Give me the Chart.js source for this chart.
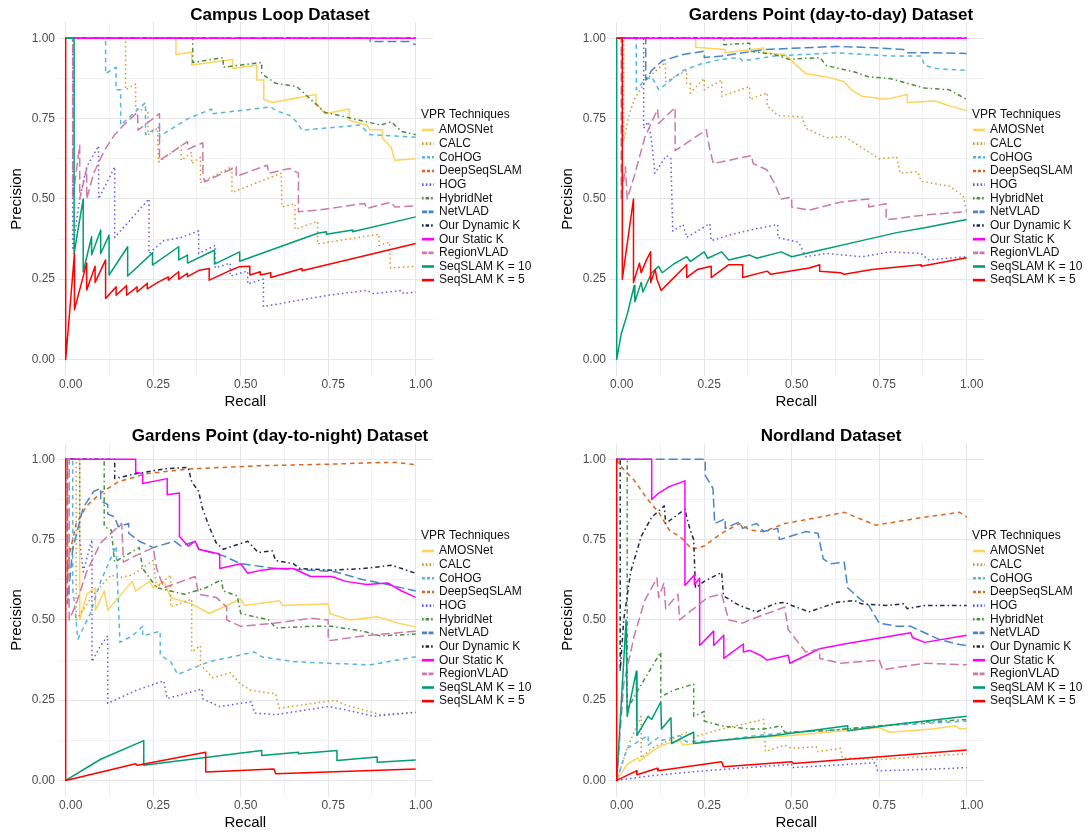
<!DOCTYPE html>
<html>
<head>
<meta charset="utf-8">
<title>VPR precision-recall curves</title>
<script src="https://cdn.jsdelivr.net/npm/chart.js@4.4.1/dist/chart.umd.min.js"></script>
<style>
  html, body { margin: 0; padding: 0; background: #ffffff; }
  #figure { position: relative; width: 1090px; height: 837px; overflow: hidden; }
  #figure canvas { position: absolute; }
</style>
</head>
<body>
<div id="figure">
  <canvas id="campusChart" width="551" height="416" style="left:0;top:0;width:551px;height:416px"></canvas>
  <canvas id="gpDayChart" width="539" height="416" style="left:551px;top:0;width:539px;height:416px"></canvas>
  <canvas id="gpNightChart" width="551" height="416" style="left:0;top:421px;width:551px;height:416px"></canvas>
  <canvas id="nordlandChart" width="539" height="416" style="left:551px;top:421px;width:539px;height:416px"></canvas>
</div>
<script>
// Techniques, in legend order
const techniques = ['AMOSNet', 'CALC', 'CoHOG', 'DeepSeqSLAM', 'HOG', 'HybridNet', 'NetVLAD',
  'Our Dynamic K', 'Our Static K', 'RegionVLAD', 'SeqSLAM K = 10', 'SeqSLAM K = 5'];
const techColors = ['#ffd35c', '#cf9a2a', '#56b4e9', '#dd661c', '#5c5cf2', '#4a8f3c', '#4a84c8',
  '#1e2947', '#ff00ff', '#cc79a7', '#009e73', '#ff0000'];
const lineTypes = ['solid', 'dotted', 'dashed', 'dashed', 'dotted', 'dotdash', 'longdash',
  'dotdash', 'solid', 'longdash', 'solid', 'solid'];

const recallTicks = [0, 0.125, 0.25, 0.375, 0.5, 0.625, 0.75, 0.875, 1];
const precisionTicks = [0, 0.125, 0.25, 0.375, 0.5, 0.625, 0.75, 0.875, 1];

// ---- Campus Loop: [recall, precision] ----
const campusAMOSNet = [[0,1],[0.315,1],[0.315,0.95],[0.36,0.957],[0.36,0.917],[0.477,0.934],[0.477,0.906],[0.546,0.917],[0.546,0.87],[0.566,0.87],[0.566,0.81],[0.59,0.8],[0.715,0.825],[0.715,0.8],[0.74,0.765],[0.81,0.78],[0.81,0.745],[0.86,0.73],[0.87,0.715],[0.905,0.715],[0.905,0.69],[0.93,0.66],[0.94,0.62],[1,0.625]];
const campusCALC = [[0,1],[0.171,1],[0.171,0.84],[0.2,0.858],[0.2,0.78],[0.235,0.775],[0.235,0.7],[0.262,0.72],[0.265,0.615],[0.33,0.665],[0.33,0.62],[0.36,0.645],[0.36,0.61],[0.385,0.63],[0.385,0.55],[0.475,0.6],[0.475,0.52],[0.616,0.58],[0.618,0.475],[0.655,0.485],[0.655,0.405],[0.72,0.43],[0.72,0.36],[0.895,0.39],[0.895,0.355],[0.925,0.365],[0.928,0.285],[1,0.29]];
const campusCoHOG = [[0,1],[0.114,1],[0.114,0.89],[0.144,0.91],[0.144,0.84],[0.157,0.84],[0.157,0.73],[0.228,0.8],[0.228,0.7],[0.268,0.725],[0.268,0.695],[0.35,0.75],[0.417,0.78],[0.417,0.765],[0.5,0.775],[0.586,0.787],[0.6,0.775],[0.64,0.76],[0.66,0.74],[0.675,0.714],[0.84,0.73],[0.87,0.7],[1,0.692]];
const campusDeepSeqSLAM = [[0,1],[1,1]];
const campusHOG = [[0,1],[0.02,1],[0.02,0.34],[0.04,0.5],[0.06,0.6],[0.094,0.665],[0.094,0.5],[0.14,0.6],[0.14,0.38],[0.238,0.5],[0.238,0.33],[0.28,0.37],[0.33,0.38],[0.38,0.4],[0.38,0.33],[0.427,0.355],[0.427,0.285],[0.47,0.3],[0.47,0.26],[0.52,0.275],[0.52,0.235],[0.565,0.25],[0.565,0.165],[0.75,0.2],[0.86,0.215],[0.88,0.205],[0.96,0.215],[0.965,0.205],[1,0.21]];
const campusHybridNet = [[0,1],[0.363,1],[0.363,0.925],[0.45,0.94],[0.45,0.91],[0.56,0.925],[0.56,0.89],[0.6,0.86],[0.66,0.85],[0.7,0.81],[0.74,0.77],[0.82,0.75],[0.86,0.74],[0.9,0.73],[0.93,0.74],[0.96,0.71],[1,0.7]];
const campusNetVLAD = [[0,1],[0.87,1],[0.87,0.99],[0.98,0.99],[1,0.98]];
const campusDynamicK = [[0,1],[1,1]];
const campusStaticK = [[0,1],[1,1]];
const campusRegionVLAD = [[0,1],[0.02,1],[0.02,0.5],[0.04,0.667],[0.04,0.5],[0.06,0.595],[0.06,0.5],[0.08,0.58],[0.11,0.65],[0.14,0.7],[0.17,0.735],[0.205,0.77],[0.207,0.714],[0.268,0.766],[0.268,0.62],[0.348,0.678],[0.35,0.655],[0.392,0.675],[0.392,0.58],[0.397,0.553],[0.487,0.6],[0.487,0.57],[0.576,0.605],[0.58,0.58],[0.64,0.595],[0.665,0.58],[0.665,0.46],[0.72,0.465],[0.854,0.486],[0.86,0.47],[0.93,0.49],[0.94,0.475],[1,0.478]];
const campusSeqK10 = [[0,1],[0.024,1],[0.024,0.33],[0.05,0.5],[0.05,0.273],[0.074,0.382],[0.074,0.325],[0.1,0.403],[0.1,0.33],[0.124,0.387],[0.124,0.263],[0.177,0.351],[0.177,0.26],[0.248,0.332],[0.248,0.294],[0.323,0.351],[0.323,0.31],[0.348,0.325],[0.348,0.3],[0.425,0.34],[0.425,0.297],[0.497,0.335],[0.497,0.306],[0.72,0.393],[0.745,0.398],[0.745,0.39],[0.82,0.403],[0.82,0.398],[1,0.444]];
const campusSeqK5 = [[0,1],[0,0],[0.025,0.33],[0.025,0.155],[0.06,0.3],[0.06,0.216],[0.084,0.29],[0.084,0.24],[0.114,0.31],[0.114,0.19],[0.144,0.226],[0.144,0.2],[0.174,0.23],[0.174,0.2],[0.204,0.226],[0.204,0.21],[0.233,0.237],[0.233,0.22],[0.263,0.24],[0.293,0.257],[0.293,0.247],[0.323,0.273],[0.323,0.25],[0.348,0.268],[0.348,0.258],[0.382,0.278],[0.41,0.283],[0.41,0.247],[0.472,0.278],[0.497,0.289],[0.526,0.29],[0.526,0.263],[0.556,0.273],[0.556,0.263],[0.586,0.27],[0.586,0.255],[0.675,0.283],[0.675,0.276],[1,0.361]];

// ---- Gardens Point day-to-day ----
const gpDayAMOSNet = [[0,1],[0.226,1],[0.226,0.972],[0.31,0.965],[0.31,0.955],[0.42,0.97],[0.42,0.955],[0.48,0.95],[0.5,0.93],[0.54,0.89],[0.6,0.88],[0.65,0.865],[0.67,0.84],[0.7,0.82],[0.77,0.81],[0.83,0.825],[0.83,0.8],[0.91,0.805],[0.95,0.79],[1,0.775]];
const gpDayCALC = [[0,1],[0.02,1],[0.02,0.68],[0.035,0.76],[0.05,0.81],[0.087,0.875],[0.139,0.925],[0.14,0.865],[0.2,0.9],[0.2,0.86],[0.21,0.86],[0.21,0.83],[0.25,0.875],[0.25,0.84],[0.3,0.87],[0.3,0.82],[0.38,0.85],[0.38,0.81],[0.43,0.83],[0.43,0.79],[0.46,0.76],[0.53,0.755],[0.54,0.72],[0.6,0.69],[0.65,0.695],[0.75,0.625],[0.8,0.63],[0.81,0.58],[0.86,0.585],[0.87,0.555],[0.95,0.54],[0.99,0.51],[1,0.46]];
const gpDayCoHOG = [[0,1],[0.056,1],[0.056,0.84],[0.08,0.87],[0.1,0.88],[0.12,0.84],[0.19,0.9],[0.24,0.92],[0.3,0.935],[0.35,0.94],[0.36,0.93],[0.45,0.945],[0.63,0.955],[0.78,0.945],[0.87,0.945],[0.88,0.915],[0.92,0.905],[1,0.9]];
const gpDayDeepSeqSLAM = [[0,1],[1,1]];
const gpDayHOG = [[0,1],[0.077,1],[0.077,0.72],[0.09,0.74],[0.1,0.68],[0.109,0.58],[0.142,0.635],[0.155,0.625],[0.16,0.4],[0.19,0.42],[0.2,0.38],[0.266,0.423],[0.27,0.37],[0.33,0.39],[0.39,0.405],[0.46,0.42],[0.46,0.38],[0.52,0.365],[0.54,0.32],[0.6,0.33],[0.7,0.32],[0.78,0.335],[0.87,0.33],[0.89,0.31],[1,0.32]];
const gpDayHybridNet = [[0,1],[0.306,1],[0.306,0.98],[0.38,0.985],[0.38,0.96],[0.45,0.95],[0.49,0.935],[0.58,0.94],[0.6,0.915],[0.68,0.895],[0.72,0.88],[0.78,0.875],[0.88,0.845],[0.95,0.84],[1,0.81]];
const gpDayNetVLAD = [[0,1],[0.083,1],[0.083,0.87],[0.1,0.9],[0.13,0.93],[0.19,0.95],[0.25,0.96],[0.25,0.94],[0.3,0.945],[0.42,0.965],[0.63,0.975],[0.75,0.97],[0.82,0.965],[0.83,0.955],[0.9,0.955],[1,0.953]];
const gpDayDynamicK = [[0,1],[1,1]];
const gpDayStaticK = [[0,1],[1,1]];
const gpDayRegionVLAD = [[0,1],[0.013,1],[0.013,0.5],[0.025,0.6],[0.03,0.5],[0.05,0.57],[0.08,0.69],[0.117,0.78],[0.12,0.735],[0.167,0.785],[0.167,0.65],[0.256,0.715],[0.265,0.66],[0.276,0.61],[0.385,0.635],[0.39,0.61],[0.43,0.59],[0.45,0.55],[0.47,0.5],[0.5,0.505],[0.5,0.475],[0.55,0.465],[0.64,0.49],[0.72,0.5],[0.72,0.475],[0.77,0.485],[0.77,0.435],[0.88,0.45],[1,0.46]];
const gpDaySeqK10 = [[0,1],[0,0],[0.013,0.08],[0.03,0.14],[0.05,0.23],[0.052,0.18],[0.07,0.24],[0.075,0.21],[0.1,0.27],[0.12,0.29],[0.13,0.27],[0.16,0.295],[0.2,0.32],[0.21,0.305],[0.25,0.335],[0.26,0.315],[0.3,0.335],[0.32,0.31],[0.38,0.325],[0.4,0.315],[0.47,0.335],[0.5,0.32],[0.58,0.34],[0.7,0.37],[0.8,0.395],[0.88,0.41],[1,0.436]];
const gpDaySeqK5 = [[0,1],[0.016,1],[0.016,0.25],[0.048,0.5],[0.048,0.24],[0.065,0.3],[0.07,0.27],[0.085,0.31],[0.097,0.335],[0.097,0.24],[0.11,0.28],[0.115,0.25],[0.127,0.215],[0.15,0.24],[0.2,0.295],[0.2,0.255],[0.23,0.28],[0.27,0.29],[0.27,0.255],[0.32,0.295],[0.36,0.295],[0.36,0.255],[0.43,0.275],[0.44,0.265],[0.55,0.285],[0.58,0.295],[0.58,0.275],[0.64,0.27],[0.65,0.265],[0.73,0.28],[0.87,0.295],[0.87,0.29],[1,0.317]];

// ---- Gardens Point day-to-night ----
const gpNightAMOSNet = [[0,1],[0.04,1],[0.04,0.5],[0.06,0.58],[0.085,0.6],[0.085,0.53],[0.11,0.59],[0.12,0.53],[0.19,0.62],[0.2,0.59],[0.24,0.62],[0.25,0.6],[0.28,0.62],[0.3,0.57],[0.36,0.55],[0.41,0.52],[0.5,0.565],[0.51,0.545],[0.61,0.56],[0.62,0.545],[0.75,0.55],[0.755,0.52],[0.81,0.5],[0.89,0.51],[0.95,0.49],[1,0.478]];
const gpNightCALC = [[0,1],[0.03,1],[0.03,0.5],[0.08,0.58],[0.13,0.64],[0.15,0.63],[0.19,0.64],[0.25,0.685],[0.26,0.6],[0.3,0.64],[0.3,0.54],[0.36,0.565],[0.36,0.4],[0.385,0.42],[0.385,0.36],[0.42,0.32],[0.47,0.335],[0.5,0.3],[0.53,0.28],[0.6,0.27],[0.61,0.225],[0.77,0.25],[0.8,0.235],[0.85,0.22],[0.9,0.205],[1,0.212]];
const gpNightCoHOG = [[0,1],[0.02,1],[0.02,0.6],[0.035,0.44],[0.07,0.52],[0.1,0.62],[0.144,0.73],[0.155,0.43],[0.19,0.45],[0.22,0.48],[0.22,0.45],[0.27,0.465],[0.27,0.39],[0.3,0.37],[0.32,0.33],[0.41,0.37],[0.54,0.4],[0.56,0.385],[0.65,0.37],[0.75,0.365],[0.87,0.36],[1,0.385]];
const gpNightDeepSeqSLAM = [[0,1],[0.005,1],[0.005,0.62],[0.01,0.7],[0.03,0.8],[0.06,0.855],[0.1,0.895],[0.15,0.93],[0.23,0.955],[0.35,0.97],[0.55,0.98],[0.75,0.985],[0.9,0.99],[0.95,0.99],[1,0.983]];
const gpNightHOG = [[0,1],[0.04,1],[0.04,0.75],[0.05,0.65],[0.075,0.75],[0.075,0.37],[0.1,0.42],[0.12,0.45],[0.12,0.24],[0.2,0.28],[0.28,0.31],[0.29,0.255],[0.39,0.285],[0.39,0.255],[0.44,0.23],[0.53,0.245],[0.54,0.21],[0.6,0.205],[0.75,0.23],[0.8,0.22],[0.88,0.2],[1,0.212]];
const gpNightHybridNet = [[0,1],[0.11,1],[0.11,0.79],[0.13,0.78],[0.14,0.68],[0.17,0.7],[0.21,0.725],[0.22,0.66],[0.26,0.6],[0.34,0.58],[0.4,0.6],[0.445,0.625],[0.45,0.59],[0.49,0.575],[0.5,0.52],[0.58,0.5],[0.6,0.475],[0.7,0.48],[0.76,0.48],[0.85,0.465],[0.9,0.45],[1,0.456]];
const gpNightNetVLAD = [[0,1],[0.005,1],[0.005,0.55],[0.02,0.72],[0.05,0.85],[0.08,0.9],[0.1,0.91],[0.1,0.87],[0.12,0.86],[0.12,0.83],[0.14,0.82],[0.15,0.79],[0.18,0.8],[0.18,0.77],[0.21,0.745],[0.25,0.725],[0.31,0.745],[0.33,0.73],[0.37,0.745],[0.38,0.72],[0.45,0.7],[0.5,0.675],[0.6,0.66],[0.7,0.655],[0.77,0.65],[0.85,0.625],[0.9,0.615],[1,0.59]];
const gpNightDynamicK = [[0,1],[0.14,1],[0.14,0.94],[0.2,0.955],[0.28,0.97],[0.35,0.975],[0.36,0.93],[0.38,0.9],[0.39,0.85],[0.41,0.79],[0.43,0.74],[0.45,0.72],[0.52,0.745],[0.55,0.71],[0.59,0.715],[0.6,0.685],[0.65,0.675],[0.67,0.66],[0.76,0.655],[0.85,0.66],[0.93,0.67],[0.96,0.66],[1,0.645]];
const gpNightStaticK = [[0,1],[0.2,1],[0.2,0.96],[0.22,0.955],[0.22,0.925],[0.29,0.94],[0.29,0.89],[0.325,0.895],[0.325,0.76],[0.35,0.73],[0.37,0.745],[0.38,0.72],[0.44,0.705],[0.44,0.66],[0.5,0.675],[0.52,0.645],[0.56,0.655],[0.6,0.66],[0.65,0.66],[0.7,0.635],[0.76,0.635],[0.8,0.62],[0.86,0.61],[0.92,0.615],[0.96,0.59],[1,0.57]];
const gpNightRegionVLAD = [[0,1],[0.01,1],[0.01,0.5],[0.03,0.55],[0.06,0.65],[0.1,0.74],[0.16,0.8],[0.165,0.68],[0.2,0.7],[0.25,0.725],[0.26,0.66],[0.28,0.6],[0.37,0.635],[0.38,0.58],[0.43,0.57],[0.46,0.54],[0.46,0.5],[0.5,0.48],[0.6,0.49],[0.7,0.505],[0.75,0.5],[0.75,0.435],[0.85,0.45],[1,0.465]];
const gpNightSeqK10 = [[0,0],[0.1,0.066],[0.223,0.124],[0.223,0.047],[0.33,0.062],[0.56,0.093],[0.56,0.078],[0.665,0.088],[0.665,0.083],[0.775,0.093],[0.775,0.062],[0.89,0.073],[0.89,0.057],[1,0.064]];
const gpNightSeqK5 = [[0,1],[0,0],[0.2,0.052],[0.205,0.047],[0.4,0.088],[0.4,0.026],[0.595,0.036],[0.6,0.021],[1,0.036]];

// ---- Nordland ----
const nordAMOSNet = [[0,0],[0.03,0.05],[0.06,0.07],[0.065,0.06],[0.1,0.09],[0.13,0.11],[0.18,0.125],[0.19,0.11],[0.25,0.12],[0.35,0.13],[0.5,0.14],[0.65,0.155],[0.75,0.165],[0.78,0.15],[0.9,0.16],[0.97,0.17],[0.98,0.16],[1,0.162]];
const nordCALC = [[0,0],[0.03,0.1],[0.07,0.2],[0.07,0.07],[0.1,0.1],[0.2,0.15],[0.22,0.135],[0.3,0.16],[0.42,0.19],[0.425,0.09],[0.48,0.11],[0.5,0.1],[0.57,0.105],[0.575,0.09],[0.64,0.1],[0.645,0.07],[0.75,0.065],[1,0.083]];
const nordCoHOG = [[0,0],[0.03,0.1],[0.06,0.12],[0.09,0.14],[0.09,0.11],[0.12,0.135],[0.13,0.125],[0.18,0.14],[0.2,0.12],[0.3,0.125],[0.4,0.14],[0.5,0.15],[0.6,0.155],[0.75,0.17],[0.85,0.175],[1,0.185]];
const nordDeepSeqSLAM = [[0,1],[0.01,0.98],[0.05,0.935],[0.085,0.88],[0.1,0.86],[0.12,0.835],[0.15,0.78],[0.185,0.755],[0.215,0.72],[0.25,0.73],[0.3,0.77],[0.35,0.8],[0.38,0.78],[0.42,0.775],[0.48,0.8],[0.58,0.82],[0.65,0.835],[0.74,0.795],[0.88,0.82],[0.98,0.835],[1,0.82]];
const nordHOG = [[0,0],[0.1,0.015],[0.25,0.03],[0.5,0.05],[0.5,0.04],[0.74,0.055],[0.745,0.03],[0.9,0.035],[1,0.04]];
const nordHybridNet = [[0,1],[0.03,1],[0.03,0.22],[0.06,0.28],[0.126,0.4],[0.126,0.26],[0.16,0.28],[0.22,0.3],[0.22,0.2],[0.25,0.215],[0.25,0.185],[0.3,0.17],[0.38,0.16],[0.42,0.16],[0.47,0.17],[0.48,0.15],[0.6,0.155],[0.75,0.17],[0.85,0.18],[1,0.19]];
const nordNetVLAD = [[0,1],[0.253,1],[0.253,0.95],[0.275,0.91],[0.28,0.8],[0.31,0.815],[0.31,0.785],[0.35,0.805],[0.36,0.785],[0.4,0.8],[0.42,0.775],[0.46,0.785],[0.465,0.75],[0.54,0.775],[0.575,0.77],[0.59,0.69],[0.61,0.675],[0.65,0.68],[0.66,0.6],[0.69,0.57],[0.72,0.545],[0.75,0.49],[0.8,0.48],[0.84,0.48],[0.88,0.46],[0.92,0.44],[0.97,0.425],[1,0.42]];
const nordDynamicK = [[0,1],[0.01,1],[0.01,0.34],[0.02,0.5],[0.04,0.65],[0.07,0.76],[0.1,0.82],[0.136,0.855],[0.14,0.8],[0.195,0.845],[0.2,0.82],[0.21,0.78],[0.22,0.75],[0.225,0.6],[0.25,0.62],[0.3,0.648],[0.305,0.575],[0.35,0.545],[0.4,0.525],[0.45,0.55],[0.48,0.555],[0.5,0.545],[0.55,0.525],[0.63,0.555],[0.68,0.56],[0.7,0.55],[0.77,0.545],[0.82,0.55],[0.83,0.535],[0.88,0.545],[1,0.545]];
const nordStaticK = [[0,1],[0.1,1],[0.1,0.875],[0.12,0.895],[0.15,0.915],[0.195,0.933],[0.195,0.607],[0.222,0.64],[0.222,0.61],[0.237,0.63],[0.237,0.42],[0.277,0.465],[0.277,0.42],[0.306,0.452],[0.306,0.38],[0.362,0.425],[0.362,0.4],[0.38,0.405],[0.41,0.39],[0.43,0.375],[0.49,0.39],[0.495,0.365],[0.58,0.41],[0.65,0.425],[0.73,0.44],[0.84,0.46],[0.845,0.445],[0.88,0.43],[1,0.452]];
const nordRegionVLAD = [[0,0],[0.02,0.3],[0.05,0.45],[0.08,0.56],[0.115,0.63],[0.12,0.57],[0.135,0.615],[0.14,0.535],[0.175,0.58],[0.18,0.5],[0.26,0.57],[0.3,0.58],[0.32,0.5],[0.36,0.49],[0.38,0.5],[0.48,0.54],[0.49,0.47],[0.54,0.4],[0.58,0.41],[0.58,0.38],[0.64,0.365],[0.75,0.375],[0.76,0.345],[0.88,0.365],[1,0.36]];
const nordSeqK10 = [[0,0],[0.027,0.5],[0.03,0.2],[0.056,0.34],[0.058,0.14],[0.09,0.2],[0.1,0.19],[0.126,0.245],[0.128,0.16],[0.155,0.195],[0.157,0.115],[0.2,0.14],[0.22,0.15],[0.22,0.115],[0.3,0.125],[0.45,0.14],[0.66,0.17],[0.66,0.155],[0.8,0.175],[1,0.2]];
const nordSeqK5 = [[0,1],[0,0],[0.056,0.03],[0.058,0.018],[0.116,0.038],[0.118,0.03],[0.3,0.058],[0.305,0.043],[0.5,0.058],[0.505,0.053],[1,0.095]];

const FONT = '"Liberation Sans", Arial, Helvetica, sans-serif';

// dash patterns for the plotted curves and for the short legend keys
const curveDash = { solid: [], dotted: [1.5, 3], dashed: [4.5, 4], longdash: [9, 4], dotdash: [1.5, 3, 4.5, 3] };
const keyDash = { solid: [], dotted: [1.6, 2.2], dashed: [3, 2], longdash: [5, 1.5], dotdash: [1.6, 2, 3.5, 2] };

// panel title + "VPR Techniques" legend, drawn on top of each chart
const panelDecor = {
  id: 'panelDecor',
  afterDraw(chart, args, opts) {
    const ctx = chart.ctx;
    ctx.save();
    ctx.fillStyle = '#000';
    ctx.font = 'bold 17px ' + FONT;
    ctx.textAlign = 'center';
    ctx.textBaseline = 'alphabetic';
    ctx.fillText(opts.title, opts.titleX, 20);

    ctx.font = '12px ' + FONT;
    ctx.textAlign = 'left';
    ctx.textBaseline = 'middle';
    ctx.fillStyle = '#111';
    ctx.fillText('VPR Techniques', 421, 115);
    techniques.forEach((name, i) => {
      const y = 130 + i * 13.65;
      ctx.strokeStyle = techColors[i];
      ctx.lineWidth = 2.6;
      ctx.lineCap = 'butt';
      ctx.setLineDash(keyDash[lineTypes[i]]);
      ctx.beginPath();
      ctx.moveTo(422, y);
      ctx.lineTo(434, y);
      ctx.stroke();
      ctx.setLineDash([]);
      ctx.fillText(name, 439, y);
    });
    ctx.restore();
  }
};

function gridColor(ctx) {
  const v = ctx.tick ? ctx.tick.value : 0;
  return Math.abs(v * 4 - Math.round(v * 4)) < 1e-6 ? '#e6e6e6' : '#f2f2f2';
}

function makeChart(canvasId, title, curves) {
  const canvas = document.getElementById(canvasId);
  const datasets = curves.map((pts, i) => ({
    label: techniques[i],
    data: pts.map(p => ({ x: p[0], y: p[1] })),
    borderColor: techColors[i],
    borderDash: curveDash[lineTypes[i]],
    borderWidth: 1.5,
    borderJoinStyle: 'round',
    pointRadius: 0,
    pointHoverRadius: 0,
    fill: false,
    tension: 0,
    order: techniques.length - i
  }));

  return new Chart(canvas, {
    type: 'line',
    data: { datasets },
    options: {
      responsive: false,
      animation: false,
      devicePixelRatio: 1,
      events: [],
      layout: { padding: { top: 22.3, right: canvas.width - 433.2, left: 0, bottom: 0 } },
      scales: {
        x: {
          type: 'linear',
          min: -0.0234,
          max: 1.05,
          afterBuildTicks: axis => { axis.ticks = recallTicks.map(v => ({ value: v })); },
          afterFit: axis => { axis.height = 40.5; },
          grid: { color: gridColor, lineWidth: 1, drawTicks: false },
          border: { display: false },
          ticks: {
            autoSkip: false,
            maxRotation: 0,
            padding: 2,
            labelOffset: 5,
            color: '#4d4d4d',
            font: { family: FONT, size: 12 },
            callback: v => (Math.abs(v * 4 - Math.round(v * 4)) < 1e-6 ? v.toFixed(2) : '')
          },
          title: {
            display: true,
            text: 'Recall',
            color: '#000',
            font: { family: FONT, size: 15 },
            padding: { top: 0, bottom: 5 }
          }
        },
        y: {
          type: 'linear',
          min: -0.05,
          max: 1.05,
          afterBuildTicks: axis => { axis.ticks = precisionTicks.map(v => ({ value: v })); },
          afterFit: axis => { axis.width = 57.5; },
          grid: { color: gridColor, lineWidth: 1, drawTicks: false },
          border: { display: false },
          ticks: {
            autoSkip: false,
            padding: 2.5,
            color: '#4d4d4d',
            font: { family: FONT, size: 12 },
            callback: v => (Math.abs(v * 4 - Math.round(v * 4)) < 1e-6 ? v.toFixed(2) : '')
          },
          title: {
            display: true,
            text: 'Precision',
            color: '#000',
            font: { family: FONT, size: 15 },
            padding: { top: 8, bottom: 0 }
          }
        }
      },
      plugins: {
        legend: { display: false },
        tooltip: { enabled: false },
        title: { display: false },
        panelDecor: { title, titleX: 280 }
      }
    },
    plugins: [panelDecor]
  });
}

makeChart('campusChart', 'Campus Loop Dataset', [campusAMOSNet, campusCALC, campusCoHOG, campusDeepSeqSLAM,
  campusHOG, campusHybridNet, campusNetVLAD, campusDynamicK, campusStaticK, campusRegionVLAD, campusSeqK10, campusSeqK5]);
makeChart('gpDayChart', 'Gardens Point (day-to-day) Dataset', [gpDayAMOSNet, gpDayCALC, gpDayCoHOG, gpDayDeepSeqSLAM,
  gpDayHOG, gpDayHybridNet, gpDayNetVLAD, gpDayDynamicK, gpDayStaticK, gpDayRegionVLAD, gpDaySeqK10, gpDaySeqK5]);
makeChart('gpNightChart', 'Gardens Point (day-to-night) Dataset', [gpNightAMOSNet, gpNightCALC, gpNightCoHOG, gpNightDeepSeqSLAM,
  gpNightHOG, gpNightHybridNet, gpNightNetVLAD, gpNightDynamicK, gpNightStaticK, gpNightRegionVLAD, gpNightSeqK10, gpNightSeqK5]);
makeChart('nordlandChart', 'Nordland Dataset', [nordAMOSNet, nordCALC, nordCoHOG, nordDeepSeqSLAM,
  nordHOG, nordHybridNet, nordNetVLAD, nordDynamicK, nordStaticK, nordRegionVLAD, nordSeqK10, nordSeqK5]);
</script>
</body>
</html>
